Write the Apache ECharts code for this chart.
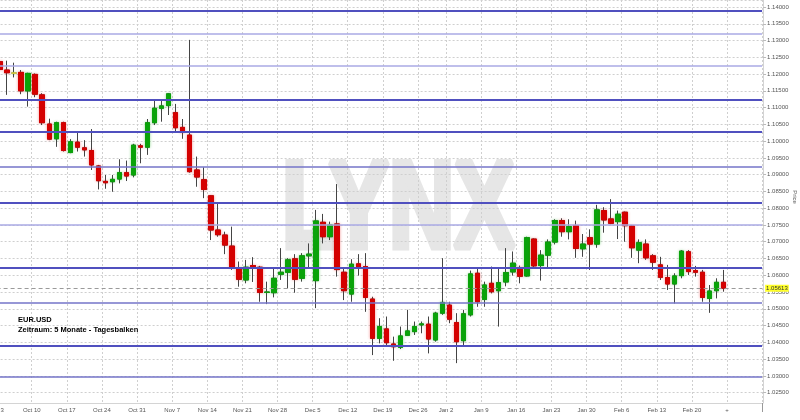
<!DOCTYPE html>
<html>
<head>
<meta charset="utf-8">
<script src="https://cdn.jsdelivr.net/npm/echarts@6/dist/echarts.min.js"></script>
<style>
  html, body { margin: 0; padding: 0; background: #fff; }
  #chart { width: 800px; height: 420px; }
</style>
</head>
<body>
<div id="chart"></div>
<script>
// weeks shown on the time axis (Dec 26 week has only 4 trading days)
const weekLabels = ["Oct 3", "Oct 10", "Oct 17", "Oct 24", "Oct 31", "Nov 7", "Nov 14", "Nov 21", "Nov 28",
  "Dec 5", "Dec 12", "Dec 19", "Dec 26", "Jan 2", "Jan 9", "Jan 16", "Jan 23", "Jan 30", "Feb 6", "Feb 13", "Feb 20", "+"];
const weekLengths = [5, 5, 5, 5, 5, 5, 5, 5, 5, 5, 5, 5, 4, 5, 5, 5, 5, 5, 5, 5, 5, 5];

// EUR.USD daily bars
const opens = [
  1.1237, 1.1212, 1.1203, 1.1205, 1.1150, 1.1199, 1.1138, 1.1051, 1.1007, 1.1055,
  1.0966, 1.0997, 1.0980, 1.0972, 1.0926, 1.0880, 1.0879, 1.0887, 1.0906, 1.0899,
  1.0986, 1.0982, 1.1055, 1.1098, 1.1106, 1.1085, 1.1041, 1.1018, 1.0914, 1.0885,
  1.0837, 1.0735, 1.0720, 1.0687, 1.0621, 1.0586, 1.0629, 1.0624, 1.0549, 1.0548,
  1.0603, 1.0609, 1.0649, 1.0591, 1.0658, 1.0584, 1.0758, 1.0715, 1.0753, 1.0609,
  1.0544, 1.0634, 1.0626, 1.0529, 1.0412, 1.0440, 1.0395, 1.0385, 1.0421, 1.0432,
  1.0452, 1.0454, 1.0407, 1.0487, 1.0511, 1.0459, 1.0405, 1.0482, 1.0606, 1.0528,
  1.0576, 1.0554, 1.0580, 1.0610, 1.0623, 1.0598, 1.0708, 1.0629, 1.0660, 1.0699,
  1.0763, 1.0730, 1.0748, 1.0679, 1.0712, 1.0693, 1.0793, 1.0768, 1.0760, 1.0788,
  1.0747, 1.0675, 1.0693, 1.0658, 1.0631, 1.0593, 1.0574, 1.0599, 1.0670, 1.0614,
  1.0609, 1.0531, 1.0554, 1.0579
];
const closes = [
  1.1214, 1.1204, 1.1203, 1.1150, 1.1202, 1.1140, 1.1055, 1.1006, 1.1055, 1.0972,
  1.0998, 1.0982, 1.0974, 1.0929, 1.0882, 1.0876, 1.0886, 1.0906, 1.0896, 1.0988,
  1.0982, 1.1055, 1.1098, 1.1105, 1.1141, 1.1040, 1.1026, 1.0909, 1.0893, 1.0856,
  1.0735, 1.0721, 1.0690, 1.0624, 1.0588, 1.0624, 1.0625, 1.0549, 1.0550, 1.0591,
  1.0609, 1.0646, 1.0588, 1.0658, 1.0663, 1.0762, 1.0715, 1.0750, 1.0617, 1.0554,
  1.0633, 1.0624, 1.0534, 1.0412, 1.0447, 1.0399, 1.0387, 1.0419, 1.0434, 1.0447,
  1.0455, 1.0410, 1.0487, 1.0519, 1.0469, 1.0402, 1.0485, 1.0604, 1.0521, 1.0571,
  1.0551, 1.0578, 1.0608, 1.0636, 1.0597, 1.0712, 1.0628, 1.0660, 1.0699, 1.0763,
  1.0730, 1.0745, 1.0680, 1.0693, 1.0693, 1.0795, 1.0765, 1.0755, 1.0782, 1.0748,
  1.0682, 1.0697, 1.0652, 1.0639, 1.0594, 1.0574, 1.0598, 1.0672, 1.0611, 1.0609,
  1.0534, 1.0553, 1.0579, 1.05613
];
const lows = [
  1.1212, 1.1138, 1.1190, 1.1140, 1.1103, 1.1131, 1.1048, 1.1003, 1.0983, 1.0969,
  1.0964, 1.0969, 1.0954, 1.0914, 1.0856, 1.0858, 1.0849, 1.0874, 1.0881, 1.0892,
  1.0934, 1.0959, 1.1048, 1.1058, 1.1078, 1.1025, 1.1007, 1.0906, 1.0864, 1.0830,
  1.0705, 1.0715, 1.0663, 1.0616, 1.0566, 1.0576, 1.0580, 1.0521, 1.0514, 1.0534,
  1.0586, 1.0561, 1.0548, 1.0581, 1.0624, 1.0502, 1.0695, 1.0705, 1.0596, 1.0526,
  1.0521, 1.0599, 1.0491, 1.0362, 1.0397, 1.0387, 1.0345, 1.0380, 1.0421, 1.0422,
  1.0427, 1.0367, 1.0402, 1.0482, 1.0457, 1.0338, 1.0387, 1.0477, 1.0506, 1.0506,
  1.0546, 1.0447, 1.0567, 1.0599, 1.0576, 1.0596, 1.0624, 1.0584, 1.0621, 1.0692,
  1.0715, 1.0707, 1.0652, 1.0655, 1.0616, 1.0682, 1.0727, 1.0752, 1.0708, 1.0700,
  1.0652, 1.0636, 1.0646, 1.0616, 1.0586, 1.0556, 1.0516, 1.0591, 1.0601, 1.0596,
  1.0521, 1.0488, 1.0531, 1.0551
];
const highs = [
  1.1242, 1.1240, 1.1234, 1.1212, 1.1204, 1.1202, 1.1143, 1.1067, 1.1058, 1.1058,
  1.1006, 1.1025, 1.1003, 1.1036, 1.0929, 1.0899, 1.0899, 1.0946, 1.0942, 1.0992,
  1.0992, 1.1066, 1.1123, 1.1123, 1.1143, 1.1111, 1.1066, 1.1302, 1.0954, 1.0922,
  1.0839, 1.0815, 1.0730, 1.0745, 1.0641, 1.0646, 1.0654, 1.0628, 1.0581, 1.0624,
  1.0681, 1.0651, 1.0663, 1.0666, 1.0695, 1.0795, 1.0783, 1.0760, 1.0872, 1.0624,
  1.0648, 1.0663, 1.0666, 1.0536, 1.0472, 1.0477, 1.0417, 1.0447, 1.0497, 1.0462,
  1.0462, 1.0477, 1.0491, 1.0651, 1.0521, 1.0487, 1.0497, 1.0614, 1.0621, 1.0581,
  1.0626, 1.0624, 1.0681, 1.0671, 1.0629, 1.0715, 1.0710, 1.0675, 1.0707, 1.0767,
  1.0770, 1.0767, 1.0763, 1.0723, 1.0737, 1.0810, 1.0803, 1.0827, 1.0793, 1.0790,
  1.0750, 1.0707, 1.0707, 1.0663, 1.0655, 1.0631, 1.0606, 1.0675, 1.0675, 1.0628,
  1.0616, 1.0571, 1.0591, 1.0616
];
const lastPrice = 1.05613;

// drawn support / resistance levels
const darkLevels = [1.1389, 1.1123, 1.1027, 1.0816, 1.0622, 1.0389];
const midLevels = [1.0923, 1.0517, 1.0297];
const lightLevels = [1.1320, 1.1224, 1.0750];

const slotLabels = [];
const weekStart = [];
weekLabels.forEach((w, i) => {
  for (let k = 0; k < weekLengths[i]; k++) {
    slotLabels.push(k === 0 ? w : '');
    weekStart.push(k === 0);
  }
});
const categories = slotLabels.map((l, i) => 'd' + i);
const nowSlot = slotLabels.indexOf('+');

const UP = '#0aa30a', DOWN = '#d40000', FLAT = '#f0e040';

const wickData = opens.map((o, i) => [o, closes[i], lows[i], highs[i]]);
const bodyData = opens.map((o, i) => {
  const c = closes[i];
  const col = c > o ? UP : c < o ? DOWN : FLAT;
  return {
    value: [o, c, Math.min(o, c), Math.max(o, c)],
    itemStyle: {
      color: col, color0: col, borderColor: col, borderColor0: col,
      shadowBlur: 3,
      shadowColor: c >= o ? 'rgba(0,170,0,0.35)' : 'rgba(230,0,0,0.35)'
    }
  };
});

const levelLine = (v, color, width) => ({ yAxis: v, lineStyle: { color: color, width: width, type: 'solid' } });
const markData = []
  .concat(lightLevels.map(v => levelLine(v, '#aaaae4', 1.5)))
  .concat(midLevels.map(v => levelLine(v, '#7474c8', 1.5)))
  .concat(darkLevels.map(v => levelLine(v, '#5050bf', 2)));
markData.push({
  yAxis: lastPrice,
  lineStyle: { color: '#9a9a9a', width: 1, type: [4, 3] },
  label: {
    show: true, position: 'end', distance: 3,
    formatter: lastPrice.toFixed(5),
    backgroundColor: '#ffff2a', color: '#333', fontSize: 6,
    fontFamily: 'Liberation Sans', padding: [1, 1, 0, 1]
  }
});

const chart = echarts.init(document.getElementById('chart'));
chart.setOption({
  animation: false,
  backgroundColor: '#fff',
  grid: { left: -3.4, top: 0, width: 765.5, height: 403, containLabel: false, outerBoundsMode: 'none' },
  xAxis: {
    type: 'category',
    data: categories,
    boundaryGap: true,
    axisLine: { show: true, lineStyle: { color: '#d4d4d4' } },
    axisTick: {
      show: true, length: 9, lineStyle: { color: '#999' },
      interval: (i) => i === nowSlot
    },
    axisLabel: {
      interval: (i) => weekStart[i],
      formatter: (v, i) => slotLabels[i],
      color: '#555', fontSize: 6, fontFamily: 'Liberation Sans',
      margin: 4, padding: [0, 7, 0, 0], hideOverlap: false
    },
    splitLine: {
      show: true,
      interval: (i) => weekStart[i],
      lineStyle: { color: '#cfcfcf', type: [2, 2], width: 1 }
    }
  },
  yAxis: {
    type: 'value',
    position: 'right',
    offset: 1,
    min: 1.02191,
    max: 1.14209,
    splitNumber: 24,
    minInterval: 0.005,
    maxInterval: 0.005,
    scale: true,
    axisLine: { show: true, lineStyle: { color: '#d4d4d4' } },
    axisTick: { show: true, length: 3, lineStyle: { color: '#bbb' } },
    axisLabel: {
      showMinLabel: false, showMaxLabel: false,
      formatter: (v) => v.toFixed(5),
      color: '#555', fontSize: 6, fontFamily: 'Liberation Sans', margin: 4
    },
    splitLine: { show: true, lineStyle: { color: '#cfcfcf', type: [2, 2], width: 1 } }
  },
  series: [
    {
      name: 'wick',
      type: 'candlestick',
      data: wickData,
      barWidth: 5,
      z: 2,
      silent: true,
      itemStyle: {
        color: '#444', color0: '#444',
        borderColor: '#444', borderColor0: '#444', borderWidth: 1
      }
    },
    {
      name: 'EUR.USD',
      type: 'candlestick',
      data: bodyData,
      barWidth: 5,
      z: 3,
      silent: true,
      itemStyle: { borderWidth: 1 },
      markLine: {
        silent: true,
        precision: 5,
        symbol: ['none', 'none'],
        label: { show: false },
        data: markData
      }
    }
  ],
  graphic: [
    {
      type: 'text', z: -10, x: 282, y: 213, scaleX: 0.74,
      style: {
        text: 'LYNX', fill: '#e6e6e6', stroke: '#e6e6e6', lineWidth: 7,
        font: 'bold 122px "Liberation Sans", Arial, sans-serif',
        align: 'left', verticalAlign: 'middle'
      }
    },
    {
      type: 'text', z: 10, x: 18, y: 316,
      style: { text: 'EUR.USD', fill: '#000', font: 'bold 7.5px "Liberation Sans", Arial, sans-serif', verticalAlign: 'top' }
    },
    {
      type: 'text', z: 10, x: 18, y: 326,
      style: { text: 'Zeitraum: 5 Monate - Tagesbalken', fill: '#000', font: 'bold 7.5px "Liberation Sans", Arial, sans-serif', verticalAlign: 'top' }
    },
    {
      type: 'text', z: 10, x: 795, y: 197, rotation: -Math.PI / 2,
      style: { text: 'Price', fill: '#555', font: '6px "Liberation Sans", Arial, sans-serif', align: 'center', verticalAlign: 'middle' }
    }
  ]
});
</script>
</body>
</html>
